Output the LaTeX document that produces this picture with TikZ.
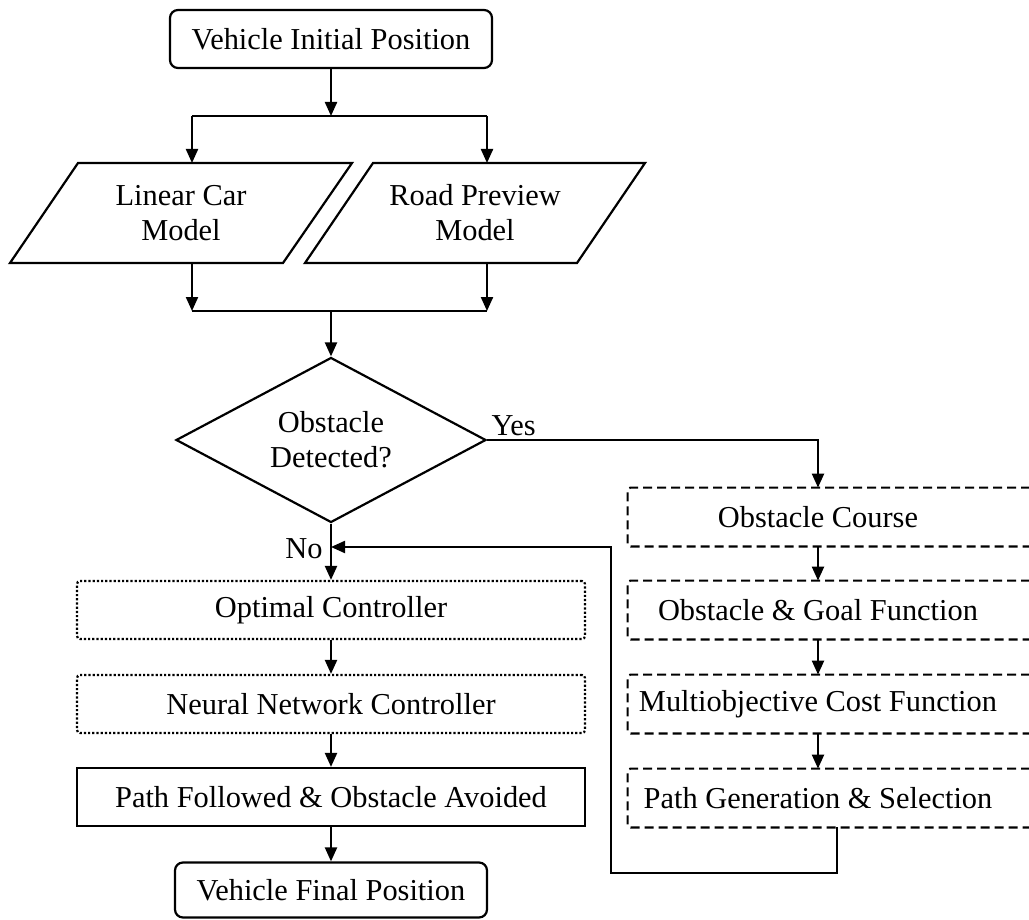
\documentclass[tikz,border=0pt]{standalone}
\usepackage{fontspec}
\setmainfont{Liberation Serif}
\usetikzlibrary{shapes.geometric,arrows.meta,calc}
\tikzstyle{box}=[rectangle, draw=black, line width=1.1pt, minimum width=254pt, minimum height=29pt, inner sep=0pt, anchor=center]
\tikzstyle{termbox}=[box, rounded corners=4pt]
\tikzstyle{dotbox}=[box, densely dotted, rounded corners=1.5pt]
\tikzstyle{decbox}=[diamond, draw=black, line width=1.1pt, minimum width=155pt, minimum height=82.5pt, aspect=1.9, inner sep=0pt, align=center]
\tikzstyle{rbox}=[rectangle, minimum width=190pt, minimum height=29pt, inner sep=0pt]
\tikzstyle{dashline}=[line width=1.1pt, dash pattern=on 4.5pt off 2.5pt, rounded corners=1.5pt]
\tikzstyle{annot}=[align=center, inner sep=2pt]
\tikzstyle{arr}=[line width=1.1pt, -{Triangle[length=7pt,width=6pt]}]
\tikzstyle{line}=[line width=1.1pt]

\begin{document}
\begin{tikzpicture}[x=0.5pt, y=-0.5pt, font=\fontsize{15.2}{17.5}\selectfont]
	\useasboundingbox (0,0) rectangle (1029,920);
	\clip (0,0) rectangle (1029,920);

	% main column
	\node[termbox, minimum width=161pt](start) at (331,39){Vehicle Initial Position};
	\draw[line] (78,163) -- (352,163) -- (283,263) -- (10,263) -- cycle;
	\node[annot](car) at (181,213){Linear Car\\Model};
	\draw[line] (373,163) -- (645,163) -- (577,263) -- (305,263) -- cycle;
	\node[annot](road) at (475,213){Road Preview\\Model};
	\node[decbox](detect) at (331,440){Obstacle\\Detected?};
	\node[dotbox](optimal) at (331,610){Optimal Controller};
	\node[dotbox](neural) at (331,704){Neural Network Controller};
	\node[box](followed) at (331,797){Path Followed \& Obstacle Avoided};
	\node[termbox, minimum width=156pt, minimum height=27.5pt](final) at (331,890){Vehicle Final Position};

	% avoidance column, boxes run off the right edge
	\node[rbox](course) at (818,517){Obstacle Course};
	\node[rbox](goal) at (818,610){Obstacle \& Goal Function};
	\node[rbox](cost) at (818,704){Multiobjective Cost Function};
	\node[rbox](pathgen) at (818,798){Path Generation \& Selection};
	\foreach \n in {course,goal,cost,pathgen}
		\draw[dashline] (\n.south west) rectangle ([xshift=30pt]\n.north east);

	\node[annot, anchor=south west](yes) at (detect.east){Yes};
	\node[annot, anchor=base east](no) at (327,558){No};

	\coordinate (splitL) at (192,116);
	\coordinate (splitR) at (487,116);
	\coordinate (carIn) at (192,163);
	\coordinate (roadIn) at (487,163);
	\coordinate (carOut) at (192,263);
	\coordinate (roadOut) at (487,263);
	\coordinate (joinL) at (192,311);
	\coordinate (joinR) at (487,311);
	\coordinate (back) at (611,873);
	\coordinate (noJoin) at (331,547);

	\draw[arr] (start) -- (start |- splitL);
	\draw[line] (splitL) -- (splitR);
	\draw[arr] (splitL) -- (carIn);
	\draw[arr] (splitR) -- (roadIn);
	\draw[arr] (carOut) -- (joinL);
	\draw[arr] (roadOut) -- (joinR);
	\draw[line] (joinL) -- (joinR);
	\draw[arr] (detect.north |- joinL) -- (detect.north);
	\draw[arr] (detect.south) -- (optimal.north);
	\draw[arr] (optimal) -- (neural);
	\draw[arr] (neural) -- (followed);
	\draw[arr] (followed) -- (final);

	\draw[arr] (detect.east) -| (course.north);
	\draw[arr] (course) -- (goal);
	\draw[arr] (goal) -- (cost);
	\draw[arr] (cost) -- (pathgen);
	\draw[arr] ([xshift=9.5pt]pathgen.south) |- (back) |- (noJoin);

\end{tikzpicture}
\end{document}
